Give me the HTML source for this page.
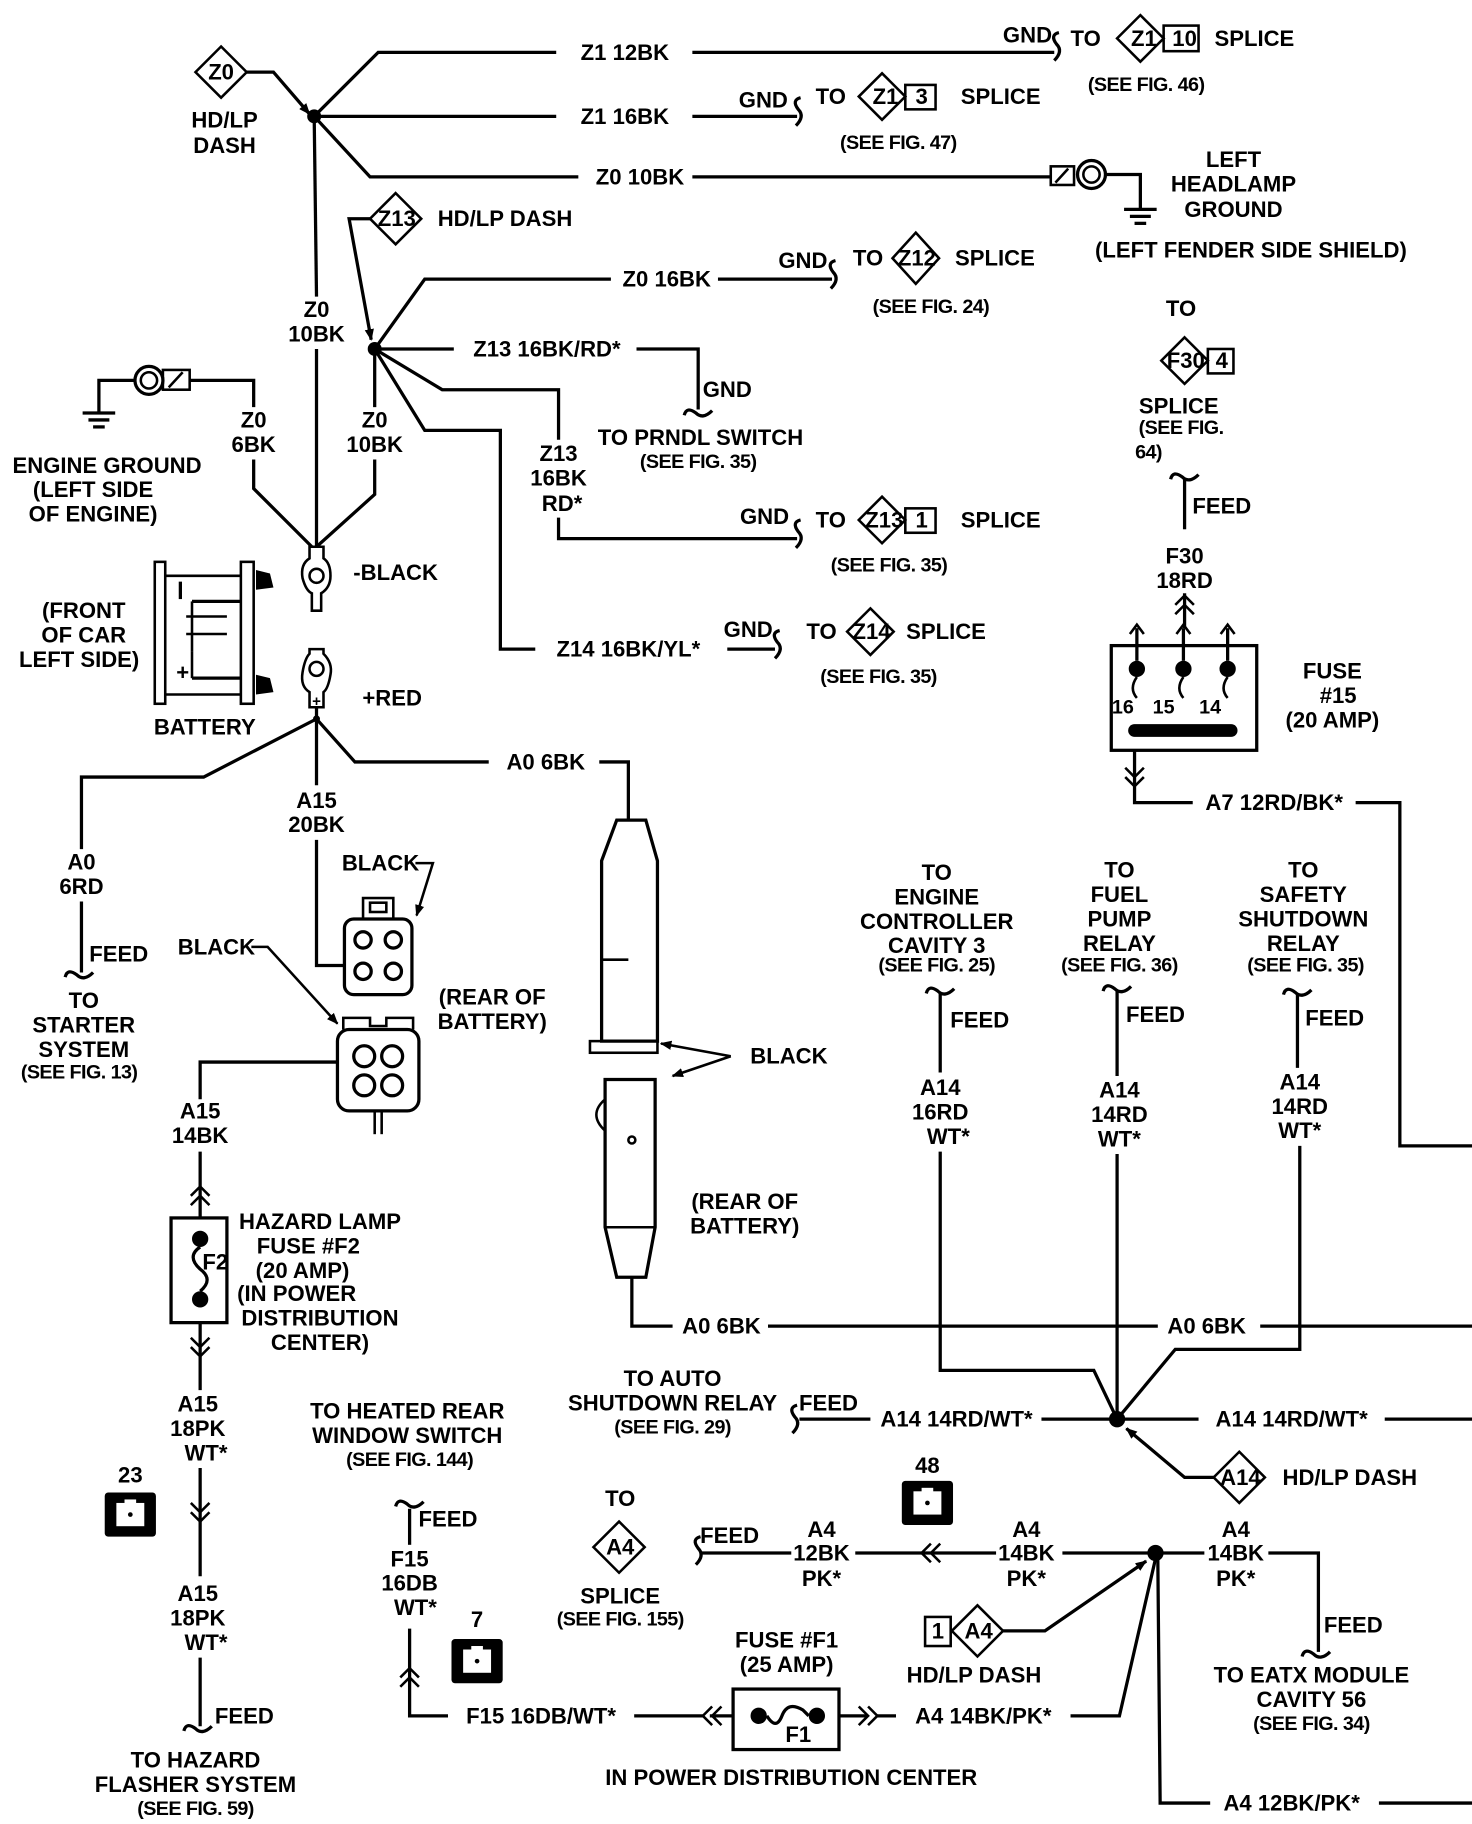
<!DOCTYPE html>
<html><head><meta charset="utf-8"><style>
html,body{margin:0;padding:0;background:#fff;width:1472px;height:1824px;overflow:hidden}
svg{display:block}
text{font-family:"Liberation Sans Narrow","Liberation Sans",sans-serif;font-weight:bold;font-size:19px;fill:#000;text-anchor:middle;dominant-baseline:central}
.s{font-family:"Liberation Sans",sans-serif;font-size:17px;letter-spacing:-0.5px}
.l{fill:none;stroke:#000;stroke-width:2.8;stroke-linejoin:miter}
.t{fill:none;stroke:#000;stroke-width:2.2}
</style></head><body>
<svg width="1472" height="1824" viewBox="0 0 1265 1568" preserveAspectRatio="none" xmlns="http://www.w3.org/2000/svg">
<defs>
<marker id="ar" markerWidth="10" markerHeight="8" refX="9" refY="4" orient="auto" markerUnits="userSpaceOnUse"><path d="M0,0 L10,4 L0,8 z" fill="#000"/></marker>
<g id="gnd"><line x1="-14" y1="0" x2="14" y2="0" class="l"/><line x1="-9" y1="6" x2="9" y2="6" class="l"/><line x1="-5" y1="12" x2="5" y2="12" class="l"/></g>
<path id="sqv" d="M-12,2 Q-10,-6 -2,0 Q4,6 12,-2" class="l"/>
<path id="sqh" d="M2,-12 Q-6,-10 0,-2 Q6,4 -2,12" class="l"/>
<g id="cn"><rect x="-22" y="-19" width="44" height="38" rx="3" fill="#000"/><rect x="-12" y="-10" width="24" height="20" fill="#fff"/><rect x="-5" y="-13" width="10" height="4" fill="#fff"/><circle r="2" fill="#000"/></g>
</defs>

<!-- TOP: Z0 -->
<polygon points="190,40 212,62 190,84 168,62" class="t"/><text x="190" y="62">Z0</text>
<text x="193" y="103">HD/LP</text><text x="193" y="125">DASH</text>
<polyline points="212,62 235,62 266,98" class="l" marker-end="url(#ar)"/>
<circle cx="270" cy="100" r="6"/>
<polyline points="270,100 325,45 478,45" class="l"/><text x="537" y="45">Z1 12BK</text>
<line x1="595" y1="45" x2="906" y2="45" class="l"/><use href="#sqh" x="908" y="40"/>
<text x="883" y="30">GND</text><text x="933" y="33">TO</text>
<polygon points="980,13 1000,33 980,53 960,33" class="t"/><text x="983" y="33">Z1</text><rect x="1000" y="22" width="30" height="22" class="t"/><text x="1018" y="33">10</text>
<text x="1078" y="33">SPLICE</text><text x="985" y="73" class="s">(SEE FIG. 46)</text>

<line x1="270" y1="100" x2="478" y2="100" class="l"/><text x="537" y="100">Z1 16BK</text>
<line x1="595" y1="100" x2="685" y2="100" class="l"/><use href="#sqh" x="686" y="96"/>
<text x="656" y="86">GND</text><text x="714" y="83">TO</text>
<polygon points="758,63 778,83 758,103 738,83" class="t"/><text x="761" y="83">Z1</text><rect x="778" y="73" width="26" height="21" class="t"/><text x="792" y="83">3</text>
<text x="860" y="83">SPLICE</text><text x="772" y="123" class="s">(SEE FIG. 47)</text>

<polyline points="270,100 318,152 497,152" class="l"/><text x="550" y="152">Z0 10BK</text>
<line x1="595" y1="152" x2="903" y2="152" class="l"/>
<rect x="903" y="143" width="20" height="16" class="t"/><line x1="907" y1="157" x2="918" y2="145" class="t"/>
<circle cx="938" cy="150" r="12" class="l"/><circle cx="938" cy="150" r="7" class="t"/>
<polyline points="950,150 980,150 980,180" class="l"/><use href="#gnd" x="980" y="180"/>
<text x="1060" y="137">LEFT</text><text x="1060" y="158">HEADLAMP</text><text x="1060" y="180">GROUND</text>
<text x="1075" y="215">(LEFT FENDER SIDE SHIELD)</text>

<line x1="270" y1="100" x2="272" y2="255" class="l"/><text x="272" y="266">Z0</text><text x="272" y="287">10BK</text>
<line x1="272" y1="300" x2="272" y2="470" class="l"/>

<!-- Z13 -->
<polygon points="340,166 362,188 340,210 318,188" class="t"/><text x="341" y="188">Z13</text>
<text x="434" y="188">HD/LP DASH</text>
<polyline points="318,188 300,188 319,292" class="l" marker-end="url(#ar)"/>
<circle cx="322" cy="300" r="6"/>
<polyline points="322,300 365,240 525,240" class="l"/><text x="573" y="240">Z0 16BK</text>
<line x1="617" y1="240" x2="715" y2="240" class="l"/><use href="#sqh" x="716" y="236"/>
<text x="690" y="224">GND</text><text x="746" y="222">TO</text>
<polygon points="787,200 807,222 787,244 767,222" class="t"/><text x="788" y="222">Z12</text>
<text x="855" y="222">SPLICE</text><text x="800" y="264" class="s">(SEE FIG. 24)</text>

<line x1="322" y1="300" x2="390" y2="300" class="l"/><text x="470" y="300">Z13 16BK/RD*</text>
<polyline points="547,300 600,300 600,352" class="l"/><use href="#sqv" x="600" y="355"/>
<text x="625" y="335">GND</text><text x="602" y="376">TO PRNDL SWITCH</text><text x="600" y="397" class="s">(SEE FIG. 35)</text>

<polyline points="322,300 380,335 480,335 480,378" class="l"/>
<text x="480" y="390">Z13</text><text x="480" y="411">16BK</text><text x="483" y="433">RD*</text>
<polyline points="480,445 480,463 685,463" class="l"/><use href="#sqh" x="686" y="459"/>
<text x="657" y="444">GND</text><text x="714" y="447">TO</text>
<polygon points="758,427 778,447 758,467 738,447" class="t"/><text x="760" y="447">Z13</text><rect x="778" y="437" width="26" height="21" class="t"/><text x="792" y="447">1</text>
<text x="860" y="447">SPLICE</text><text x="764" y="486" class="s">(SEE FIG. 35)</text>

<polyline points="322,300 365,370 430,370 430,558 460,558" class="l"/><text x="540" y="558">Z14 16BK/YL*</text>
<line x1="625" y1="558" x2="666" y2="558" class="l"/><use href="#sqh" x="668" y="554"/>
<text x="643" y="541">GND</text><text x="706" y="543">TO</text>
<polygon points="748,523 768,543 748,563 728,543" class="t"/><text x="749" y="543">Z14</text>
<text x="813" y="543">SPLICE</text><text x="755" y="582" class="s">(SEE FIG. 35)</text>

<line x1="322" y1="300" x2="322" y2="350" class="l"/><text x="322" y="361">Z0</text><text x="322" y="382">10BK</text>
<polyline points="322,395 322,425 272,470" class="l"/>

<!-- engine ground -->
<use href="#gnd" x="85" y="355"/>
<polyline points="85,355 85,327 115,327" class="l"/>
<circle cx="128" cy="327" r="12" class="l"/><circle cx="128" cy="327" r="7" class="t"/>
<rect x="140" y="318" width="23" height="17" class="t"/><line x1="145" y1="333" x2="157" y2="320" class="t"/>
<polyline points="163,327 218,327 218,350" class="l"/><text x="218" y="361">Z0</text><text x="218" y="382">6BK</text>
<polyline points="218,395 218,420 268,470" class="l"/>
<text x="92" y="400">ENGINE GROUND</text><text x="80" y="421">(LEFT SIDE</text><text x="80" y="442">OF ENGINE)</text>

<!-- battery -->
<rect x="133" y="483" width="9" height="122" class="t"/>
<rect x="207" y="483" width="11" height="122" class="t"/>
<polyline points="142,495 207,495" class="t"/><polyline points="142,597 207,597" class="t"/>
<line x1="155" y1="500" x2="155" y2="515" class="l"/>
<line x1="165" y1="517" x2="207" y2="517" class="l"/><line x1="165" y1="517" x2="165" y2="560" class="t"/>
<line x1="160" y1="530" x2="195" y2="530" class="t"/><line x1="160" y1="545" x2="195" y2="545" class="t"/>
<line x1="165" y1="583" x2="207" y2="583" class="l"/><line x1="165" y1="560" x2="165" y2="583" class="t"/>
<text x="157" y="578">+</text>
<path d="M220,490 L232,493 L235,505 L220,507 z M220,580 L232,583 L235,595 L220,597 z" fill="#000"/>
<path d="M266,470 L266,480 Q258,485 260,497 Q263,508 268,510 L268,525 L276,525 L276,510 Q284,505 284,495 Q284,484 278,480 L278,470 z" class="t"/>
<circle cx="272" cy="495" r="6" class="t"/>
<path d="M266,558 L278,558 L278,562 Q286,570 284,580 Q282,592 278,595 L278,608 L266,608 L266,595 Q258,590 260,578 Q262,566 266,562 z" class="t"/>
<circle cx="272" cy="575" r="6" class="t"/><text x="272" y="603" style="font-size:13px">+</text>
<text x="340" y="492">-BLACK</text><text x="337" y="600">+RED</text>
<text x="72" y="525">(FRONT</text><text x="72" y="546">OF CAR</text><text x="68" y="567">LEFT SIDE)</text>
<text x="176" y="625">BATTERY</text>

<circle cx="272" cy="618" r="3"/>
<polyline points="272,608 272,618 175,668 70,668 70,730" class="l"/>
<text x="70" y="741">A0</text><text x="70" y="762">6RD</text>
<line x1="70" y1="775" x2="70" y2="836" class="l"/><use href="#sqv" x="68" y="838"/>
<text x="102" y="820">FEED</text>
<text x="72" y="860">TO</text><text x="72" y="881">STARTER</text><text x="72" y="902">SYSTEM</text><text x="68" y="922" class="s">(SEE FIG. 13)</text>

<polyline points="272,618 305,655 420,655" class="l"/><text x="469" y="655">A0 6BK</text>
<polyline points="515,655 540,655 540,705" class="l"/>

<line x1="272" y1="618" x2="272" y2="675" class="l"/><text x="272" y="688">A15</text><text x="272" y="709">20BK</text>
<polyline points="272,722 272,830 296,830" class="l"/>
<!-- connector 4 pin upper -->
<rect x="296" y="790" width="58" height="65" rx="8" class="l"/>
<rect x="312" y="772" width="26" height="18" class="t"/><rect x="318" y="776" width="14" height="8" class="t"/>
<circle cx="312" cy="808" r="7" class="l"/><circle cx="338" cy="808" r="7" class="l"/><circle cx="312" cy="835" r="7" class="l"/><circle cx="338" cy="835" r="7" class="l"/>
<text x="327" y="742">BLACK</text><polyline points="357,742 372,742 358,787" class="t" marker-end="url(#ar)"/>
<!-- connector lower -->
<rect x="290" y="885" width="70" height="70" rx="10" class="l"/>
<path d="M295,885 L295,875 L318,875 L318,882 L332,882 L332,875 L355,875 L355,885" class="t"/>
<circle cx="313" cy="908" r="9" class="l"/><circle cx="337" cy="908" r="9" class="l"/><circle cx="313" cy="933" r="9" class="l"/><circle cx="337" cy="933" r="9" class="l"/>
<line x1="322" y1="955" x2="322" y2="975" class="t"/><line x1="328" y1="955" x2="328" y2="975" class="t"/>
<text x="186" y="814">BLACK</text><polyline points="216,814 230,814 290,880" class="t" marker-end="url(#ar)"/>
<text x="423" y="857">(REAR OF</text><text x="423" y="878">BATTERY)</text>

<polyline points="290,913 172,913 172,945" class="l"/><text x="172" y="955">A15</text><text x="172" y="976">14BK</text>
<line x1="172" y1="990" x2="172" y2="1047" class="l"/>
<path d="M164,1028 L172,1020 L180,1028 M164,1036 L172,1028 L180,1036" class="t"/>
<rect x="147" y="1047" width="48" height="90" class="l"/>
<circle cx="172" cy="1065" r="7"/><circle cx="172" cy="1117" r="7"/>
<path d="M172,1072 Q160,1080 172,1091 Q184,1100 172,1110" class="l"/>
<text x="185" y="1085">F2</text>
<text x="275" y="1050">HAZARD LAMP</text><text x="265" y="1071">FUSE #F2</text><text x="260" y="1092">(20 AMP)</text>
<text x="255" y="1112">(IN POWER</text><text x="275" y="1133">DISTRIBUTION</text><text x="275" y="1154">CENTER)</text>
<line x1="172" y1="1137" x2="172" y2="1195" class="l"/>
<path d="M164,1150 L172,1158 L180,1150 M164,1158 L172,1166 L180,1158" class="t"/>
<text x="170" y="1207">A15</text><text x="170" y="1228">18PK</text><text x="177" y="1249">WT*</text>
<line x1="172" y1="1262" x2="172" y2="1355" class="l"/>
<path d="M164,1292 L172,1300 L180,1292 M164,1300 L172,1308 L180,1300" class="t"/>
<text x="170" y="1370">A15</text><text x="170" y="1391">18PK</text><text x="177" y="1412">WT*</text>
<line x1="172" y1="1425" x2="172" y2="1484" class="l"/><use href="#sqv" x="170" y="1486"/>
<text x="210" y="1475">FEED</text>
<text x="168" y="1513">TO HAZARD</text><text x="168" y="1534">FLASHER SYSTEM</text><text x="168" y="1555" class="s">(SEE FIG. 59)</text>
<text x="112" y="1268">23</text><use href="#cn" x="112" y="1302"/>

<!-- middle big connector -->
<polygon points="530,705 555,705 565,740 565,895 517,895 517,740" class="l"/>
<line x1="517" y1="825" x2="540" y2="825" class="t"/>
<rect x="507" y="895" width="58" height="10" class="t"/>
<polygon points="520,928 563,928 563,1055 555,1098 530,1098 520,1055" class="l"/>
<path d="M520,945 Q505,958 520,972" class="t"/>
<circle cx="543" cy="980" r="3" class="t"/>
<line x1="520" y1="1055" x2="563" y2="1055" class="t"/>
<polyline points="628,908 568,897" class="t" marker-end="url(#ar)"/>
<polyline points="628,908 578,925" class="t" marker-end="url(#ar)"/>
<text x="678" y="908">BLACK</text>
<text x="640" y="1033">(REAR OF</text><text x="640" y="1054">BATTERY)</text>
<polyline points="543,1098 543,1140 578,1140" class="l"/><text x="620" y="1140">A0 6BK</text>
<line x1="660" y1="1140" x2="995" y2="1140" class="l"/><text x="1037" y="1140">A0 6BK</text>
<line x1="1083" y1="1140" x2="1265" y2="1140" class="l"/>

<!-- right top F30 -->
<text x="1015" y="265">TO</text>
<polygon points="1018,290 1038,310 1018,330 998,310" class="t"/><text x="1019" y="310">F30</text>
<rect x="1038" y="300" width="22" height="21" class="t"/><text x="1050" y="310">4</text>
<text x="1013" y="349">SPLICE</text><text x="1015" y="368" class="s">(SEE FIG.</text><text x="987" y="389" class="s">64)</text>
<use href="#sqv" x="1018" y="410"/><line x1="1018" y1="412" x2="1018" y2="455" class="l"/>
<text x="1050" y="435">FEED</text><text x="1018" y="478">F30</text><text x="1018" y="499">18RD</text>
<line x1="1018" y1="510" x2="1018" y2="540" class="l"/>
<path d="M1010,520 L1018,512 L1026,520 M1010,528 L1018,520 L1026,528" class="t"/>
<rect x="955" y="555" width="125" height="90" class="l"/>
<g class="l">
<line x1="977" y1="540" x2="977" y2="568"/><line x1="1017" y1="540" x2="1017" y2="568"/><line x1="1055" y1="540" x2="1055" y2="568"/>
</g>
<path d="M971,545 L977,537 L983,545 M1011,545 L1017,537 L1023,545 M1049,545 L1055,537 L1061,545" class="t"/>
<circle cx="977" cy="575" r="7"/><circle cx="1017" cy="575" r="7"/><circle cx="1055" cy="575" r="7"/>
<path d="M977,582 Q970,592 977,600 M1017,582 Q1010,592 1017,600 M1055,582 Q1048,592 1055,600" class="t"/>
<text x="965" y="608" style="font-size:17px">16</text><text x="1000" y="608" style="font-size:17px">15</text><text x="1040" y="608" style="font-size:17px">14</text>
<line x1="975" y1="628" x2="1058" y2="628" stroke="#000" stroke-width="11" stroke-linecap="round"/>
<text x="1145" y="577">FUSE</text><text x="1150" y="598">#15</text><text x="1145" y="619">(20 AMP)</text>
<polyline points="975,645 975,690 1025,690" class="l"/>
<path d="M967,660 L975,668 L983,660 M967,668 L975,676 L983,668" class="t"/>
<text x="1095" y="690">A7 12RD/BK*</text>
<polyline points="1165,690 1203,690 1203,985 1265,985" class="l"/>

<!-- three feeds -->
<text x="805" y="750">TO</text><text x="805" y="771">ENGINE</text><text x="805" y="792">CONTROLLER</text><text x="805" y="813">CAVITY 3</text><text x="805" y="830" class="s">(SEE FIG. 25)</text>
<use href="#sqv" x="808" y="852"/><line x1="808" y1="854" x2="808" y2="922" class="l"/>
<text x="842" y="877">FEED</text><text x="808" y="935">A14</text><text x="808" y="956">16RD</text><text x="815" y="977">WT*</text>
<polyline points="808,990 808,1178 940,1178 960,1220" class="l"/>

<text x="962" y="748">TO</text><text x="962" y="769">FUEL</text><text x="962" y="790">PUMP</text><text x="962" y="811">RELAY</text><text x="962" y="830" class="s">(SEE FIG. 36)</text>
<use href="#sqv" x="960" y="850"/><line x1="960" y1="852" x2="960" y2="925" class="l"/>
<text x="993" y="872">FEED</text><text x="962" y="937">A14</text><text x="962" y="958">14RD</text><text x="962" y="979">WT*</text>
<line x1="960" y1="992" x2="960" y2="1220" class="l"/>

<text x="1120" y="748">TO</text><text x="1120" y="769">SAFETY</text><text x="1120" y="790">SHUTDOWN</text><text x="1120" y="811">RELAY</text><text x="1122" y="830" class="s">(SEE FIG. 35)</text>
<use href="#sqv" x="1115" y="853"/><line x1="1115" y1="855" x2="1115" y2="918" class="l"/>
<text x="1147" y="875">FEED</text><text x="1117" y="930">A14</text><text x="1117" y="951">14RD</text><text x="1117" y="972">WT*</text>
<polyline points="1117,985 1117,1160 1010,1160 960,1220" class="l"/>

<circle cx="960" cy="1220" r="7"/>
<line x1="895" y1="1220" x2="960" y2="1220" class="l"/>
<text x="822" y="1220">A14 14RD/WT*</text>
<line x1="687" y1="1220" x2="748" y2="1220" class="l"/><use href="#sqh" x="683" y="1220"/>
<text x="712" y="1206">FEED</text>
<text x="578" y="1185">TO AUTO</text><text x="578" y="1206">SHUTDOWN RELAY</text><text x="578" y="1227" class="s">(SEE FIG. 29)</text>
<line x1="960" y1="1220" x2="1030" y2="1220" class="l"/><text x="1110" y="1220">A14 14RD/WT*</text>
<line x1="1190" y1="1220" x2="1265" y2="1220" class="l"/>
<polygon points="1065,1248 1087,1270 1065,1292 1043,1270" class="t"/><text x="1066" y="1270">A14</text>
<text x="1160" y="1270">HD/LP DASH</text>
<polyline points="1043,1270 1018,1270 968,1228" class="l" marker-end="url(#ar)"/>

<!-- A4 area -->
<text x="797" y="1260">48</text><use href="#cn" x="797" y="1292"/>
<circle cx="993" cy="1335" r="7"/>
<line x1="913" y1="1335" x2="993" y2="1335" class="l"/>
<text x="882" y="1315">A4</text><text x="882" y="1335">14BK</text><text x="882" y="1357">PK*</text>
<line x1="792" y1="1335" x2="856" y2="1335" class="l"/>
<path d="M800,1327 L792,1335 L800,1343 M808,1327 L800,1335 L808,1343" class="t"/>
<line x1="735" y1="1335" x2="792" y2="1335" class="l"/>
<text x="706" y="1315">A4</text><text x="706" y="1335">12BK</text><text x="706" y="1357">PK*</text>
<line x1="603" y1="1335" x2="680" y2="1335" class="l"/><use href="#sqh" x="600" y="1333"/>
<text x="627" y="1320">FEED</text>
<text x="533" y="1288">TO</text>
<polygon points="532,1308 554,1330 532,1352 510,1330" class="t"/><text x="533" y="1330">A4</text>
<text x="533" y="1372">SPLICE</text><text x="533" y="1392" class="s">(SEE FIG. 155)</text>

<line x1="993" y1="1335" x2="1035" y2="1335" class="l"/>
<text x="1062" y="1315">A4</text><text x="1062" y="1335">14BK</text><text x="1062" y="1357">PK*</text>
<polyline points="1090,1335 1133,1335 1133,1420" class="l"/><use href="#sqv" x="1131" y="1422"/>
<text x="1163" y="1397">FEED</text>
<text x="1127" y="1440">TO EATX MODULE</text><text x="1127" y="1461">CAVITY 56</text><text x="1127" y="1482" class="s">(SEE FIG. 34)</text>

<rect x="795" y="1390" width="22" height="25" class="t"/><text x="806" y="1402">1</text>
<polygon points="840,1380 862,1402 840,1424 818,1402" class="t"/><text x="841" y="1402">A4</text>
<text x="837" y="1440">HD/LP DASH</text>
<polyline points="862,1402 898,1402 985,1342" class="l" marker-end="url(#ar)"/>
<polyline points="920,1475 962,1475 993,1340" class="l"/>
<polyline points="995,1340 997,1550 1040,1550" class="l"/>
<text x="1110" y="1550">A4 12BK/PK*</text>
<line x1="1185" y1="1550" x2="1265" y2="1550" class="l"/>

<!-- F1 fuse -->
<text x="676" y="1410">FUSE #F1</text><text x="676" y="1431">(25 AMP)</text>
<rect x="630" y="1452" width="91" height="52" class="l"/>
<circle cx="652" cy="1475" r="7"/><circle cx="702" cy="1475" r="7"/>
<path d="M659,1475 Q667,1488 672,1475 Q677,1462 690,1470 L695,1475" class="l"/>
<text x="686" y="1491">F1</text>
<line x1="610" y1="1475" x2="630" y2="1475" class="l"/><line x1="721" y1="1475" x2="745" y2="1475" class="l"/>
<path d="M612,1467 L604,1475 L612,1483 M620,1467 L612,1475 L620,1483" class="t"/>
<path d="M738,1467 L746,1475 L738,1483 M746,1467 L754,1475 L746,1483" class="t"/>
<line x1="754" y1="1475" x2="770" y2="1475" class="l"/>
<text x="845" y="1475">A4 14BK/PK*</text>
<line x1="545" y1="1475" x2="604" y2="1475" class="l"/>
<text x="680" y="1528">IN POWER DISTRIBUTION CENTER</text>
<text x="465" y="1475">F15 16DB/WT*</text>
<polyline points="385,1475 352,1475 352,1400" class="l"/>
<path d="M344,1442 L352,1434 L360,1442 M344,1450 L352,1442 L360,1450" class="t"/>
<text x="352" y="1340">F15</text><text x="352" y="1361">16DB</text><text x="357" y="1382">WT*</text>
<line x1="352" y1="1328" x2="352" y2="1297" class="l"/><use href="#sqv" x="352" y="1293"/>
<text x="385" y="1306">FEED</text>
<text x="350" y="1213">TO HEATED REAR</text><text x="350" y="1234">WINDOW SWITCH</text><text x="352" y="1255" class="s">(SEE FIG. 144)</text>
<text x="410" y="1392">7</text><use href="#cn" x="410" y="1428"/>
</svg>
</body></html>
